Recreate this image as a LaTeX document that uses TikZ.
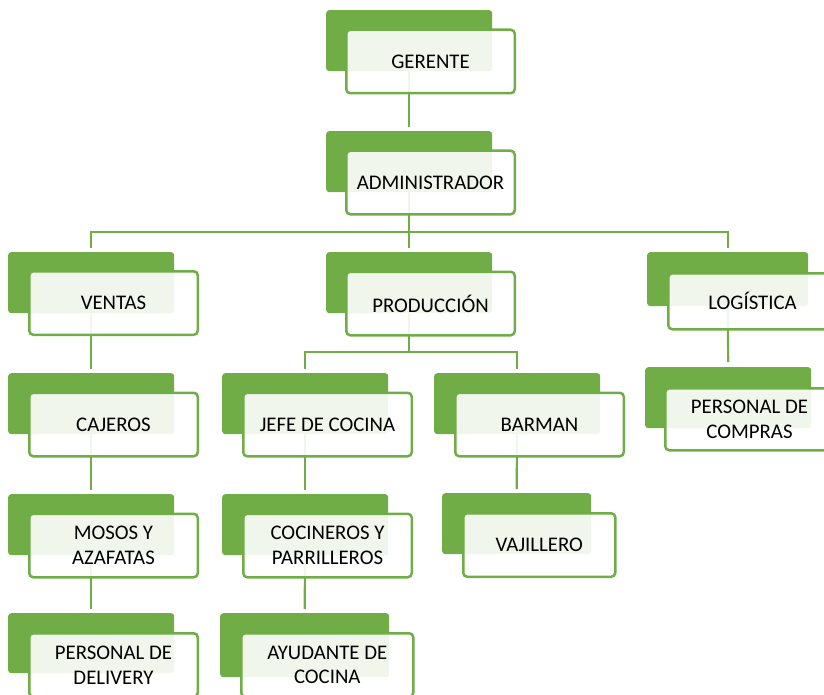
\documentclass[tikz,border=0pt]{standalone}
\usepackage{fontspec}
\setmainfont{Carlito}
\usetikzlibrary{backgrounds}
\definecolor{ogreen}{HTML}{70AD47}
\begin{document}
\begin{tikzpicture}[x=1pt,y=-1pt,
  backbox/.style={fill=ogreen, rounded corners=3pt, inner sep=0pt, anchor=north west,
    minimum width=166pt, minimum height=61pt},
  frontbox/.style={draw=ogreen, line width=2.5pt, fill=white, fill opacity=0.9, text opacity=1,
    rounded corners=4pt, inner sep=0pt, anchor=north west, minimum width=168.5pt,
    minimum height=63.5pt, align=center, font=\fontsize{20.8}{24.5}\selectfont, text=black},
  link/.style={draw=ogreen, line width=2.2pt}]
\useasboundingbox (0,0) rectangle (824,695);
% level 1-2
\node[backbox] (gerB) at (326,10) {};
\node[frontbox] (gerF) at (345,28.5) {GERENTE};
\node[backbox] (admB) at (326,131) {};
\node[frontbox] (admF) at (345,149.5) {ADMINISTRADOR};
% level 3
\node[backbox] (venB) at (8,252) {};
\node[frontbox] (venF) at (28,270) {VENTAS};
\node[backbox] (proB) at (326,252) {};
\node[frontbox] (proF) at (345,270.5) {PRODUCCIÓN};
\node[backbox, minimum width=161pt, minimum height=54pt] (logB) at (647,252) {};
\node[frontbox, minimum height=56pt] (logF) at (667,272) {LOGÍSTICA};
% level 4
\node[backbox] (cajB) at (8,373) {};
\node[frontbox] (cajF) at (28,391.5) {CAJEROS};
\node[backbox] (jefB) at (222,373) {};
\node[frontbox] (jefF) at (242,391.5) {JEFE DE COCINA};
\node[backbox] (barB) at (434,373) {};
\node[frontbox] (barF) at (454,391.5) {BARMAN};
\node[backbox] (comB) at (645,367) {};
\node[frontbox, minimum height=62pt] (comF) at (664,387) {PERSONAL DE\\COMPRAS};
% level 5
\node[backbox] (mosB) at (8,494) {};
\node[frontbox] (mosF) at (28,512.5) {MOSOS Y\\AZAFATAS};
\node[backbox] (cocB) at (222,494) {};
\node[frontbox] (cocF) at (242,512.5) {COCINEROS Y\\PARRILLEROS};
\node[backbox, minimum width=149pt] (vajB) at (442,493) {};
\node[frontbox, minimum width=152pt] (vajF) at (462,512) {VAJILLERO};
% level 6
\node[backbox, minimum height=60pt] (delB) at (8,613) {};
\node[frontbox] (delF) at (28,632) {PERSONAL DE\\DELIVERY};
\node[backbox, minimum width=169pt, minimum height=64pt] (ayuB) at (220,613) {};
\node[frontbox, minimum width=172pt] (ayuF) at (240,632) {AYUDANTE DE\\COCINA};
% connectors
\coordinate (bus1) at (0,232);
\coordinate (bus2) at (0,352);
\begin{scope}[on background layer]
\draw[link, shorten >=4pt] (gerB.center) -- (admB.north);
\draw[link, shorten >=4pt] (admB.center) -- (admB.center |- bus1) -| (venB.north);
\draw[link, shorten >=4pt] (admB.center) -- (admB.center |- bus1) -| (logB.north);
\draw[link, shorten >=4pt] (admB.center) -- (proB.north);
\draw[link, shorten >=4pt] (venB.center) -- (cajB.north);
\draw[link, shorten >=4pt] (cajB.center) -- (mosB.north);
\draw[link, shorten >=4pt] (mosB.center) -- (delB.north);
\draw[link, shorten >=4pt] (proB.center) -- (proB.center |- bus2) -| (jefB.north);
\draw[link, shorten >=4pt] (proB.center) -- (proB.center |- bus2) -| (barB.north);
\draw[link, shorten >=4pt] (jefB.center) -- (cocB.north);
\draw[link, shorten >=4pt] (cocB.center) -- (ayuB.north);
\draw[link, shorten >=4pt] (barB.center) -- (vajB.north);
\draw[link, shorten >=5pt] (logB.center) -- (comB.north);
\end{scope}
\end{tikzpicture}
\end{document}
